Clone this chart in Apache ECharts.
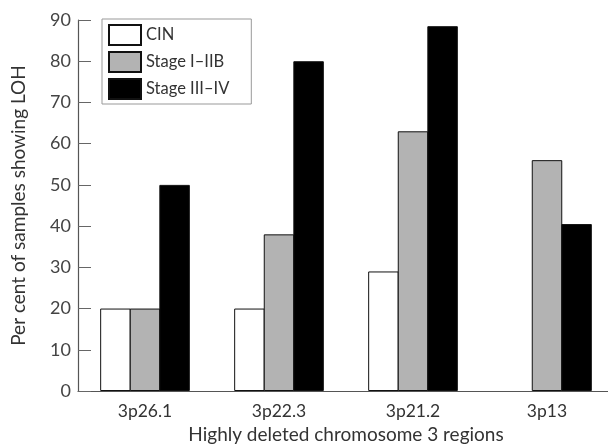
<!DOCTYPE html>
<html>
<head>
<meta charset="utf-8">
<script src="https://cdn.jsdelivr.net/npm/echarts@6/dist/echarts.min.js"></script>
<style>html,body{margin:0;padding:0;background:#fff}#c{width:608px;height:444px}</style>
</head>
<body>
<div id="c"></div>
<script>
const categories = ['3p26.1', '3p22.3', '3p21.2', '3p13'];
const cinValues = [20, 20, 29, 0];
const stageIValues = [20, 38, 63, 56];
const stageIIIValues = [50, 80, 88.5, 40.5];
const yTicks = [0, 10, 20, 30, 40, 50, 60, 70, 80, 90];

const FONT = 'Lato';
const chart = echarts.init(document.getElementById('c'), null, {renderer: 'canvas'});
const barStyle = (color) => ({color: color, borderColor: '#111', borderWidth: 1});
const toData = (arr) => arr.map(v => v === 0 ? {value: v, itemStyle: {borderWidth: 0}} : v);
chart.setOption({
  animation: false,
  backgroundColor: '#fff',
  textStyle: {fontFamily: FONT},
  grid: {left: 78, top: 20, width: 536, height: 371, containLabel: false, outerBoundsMode: 'none'},
  legend: {
    left: 102, top: 19,
    orient: 'vertical',
    itemWidth: 32, itemHeight: 20, itemGap: 5,
    padding: [5, 22, 4, 6],
    borderColor: '#999', borderWidth: 1,
    textStyle: {fontSize: 16.5, color: '#333', fontFamily: FONT},
    data: [
      {name: 'CIN', icon: 'rect'},
      {name: 'Stage I–IIB', icon: 'rect'},
      {name: 'Stage III–IV', icon: 'rect'}
    ]
  },
  xAxis: {
    type: 'category',
    data: categories,
    name: 'Highly deleted chromosome 3 regions',
    nameLocation: 'middle',
    nameGap: 29,
    nameTextStyle: {fontSize: 19, color: '#333', fontFamily: FONT},
    axisLine: {lineStyle: {color: '#555', width: 1.2}},
    axisTick: {inside: true, length: 14, lineStyle: {color: '#999'}},
    axisLabel: {fontSize: 17.5, color: '#333', margin: 11, fontFamily: FONT},
    splitLine: {show: false}
  },
  yAxis: {
    type: 'value',
    min: 0, max: 90, interval: 10,
    name: 'Per cent of samples showing LOH',
    nameLocation: 'middle',
    nameGap: 50,
    nameTextStyle: {fontSize: 19, color: '#333', fontFamily: FONT},
    axisLine: {show: true, lineStyle: {color: '#555', width: 1.2}},
    axisTick: {show: true, inside: true, length: 13, lineStyle: {color: '#666'}},
    axisLabel: {fontSize: 18, color: '#444', margin: 7, fontFamily: FONT,
      formatter: (v) => yTicks.includes(v) ? String(v) : ''},
    splitLine: {show: false}
  },
  series: [
    {name: 'CIN', type: 'bar', data: toData(cinValues), barWidth: 30.5, barGap: '-3%', itemStyle: barStyle('#ffffff')},
    {name: 'Stage I–IIB', type: 'bar', data: toData(stageIValues), barWidth: 30.5, barGap: '-3%', itemStyle: barStyle('#b3b3b3')},
    {name: 'Stage III–IV', type: 'bar', data: toData(stageIIIValues), barWidth: 30.5, barGap: '-3%', itemStyle: barStyle('#000000')}
  ]
});
</script>
</body>
</html>
